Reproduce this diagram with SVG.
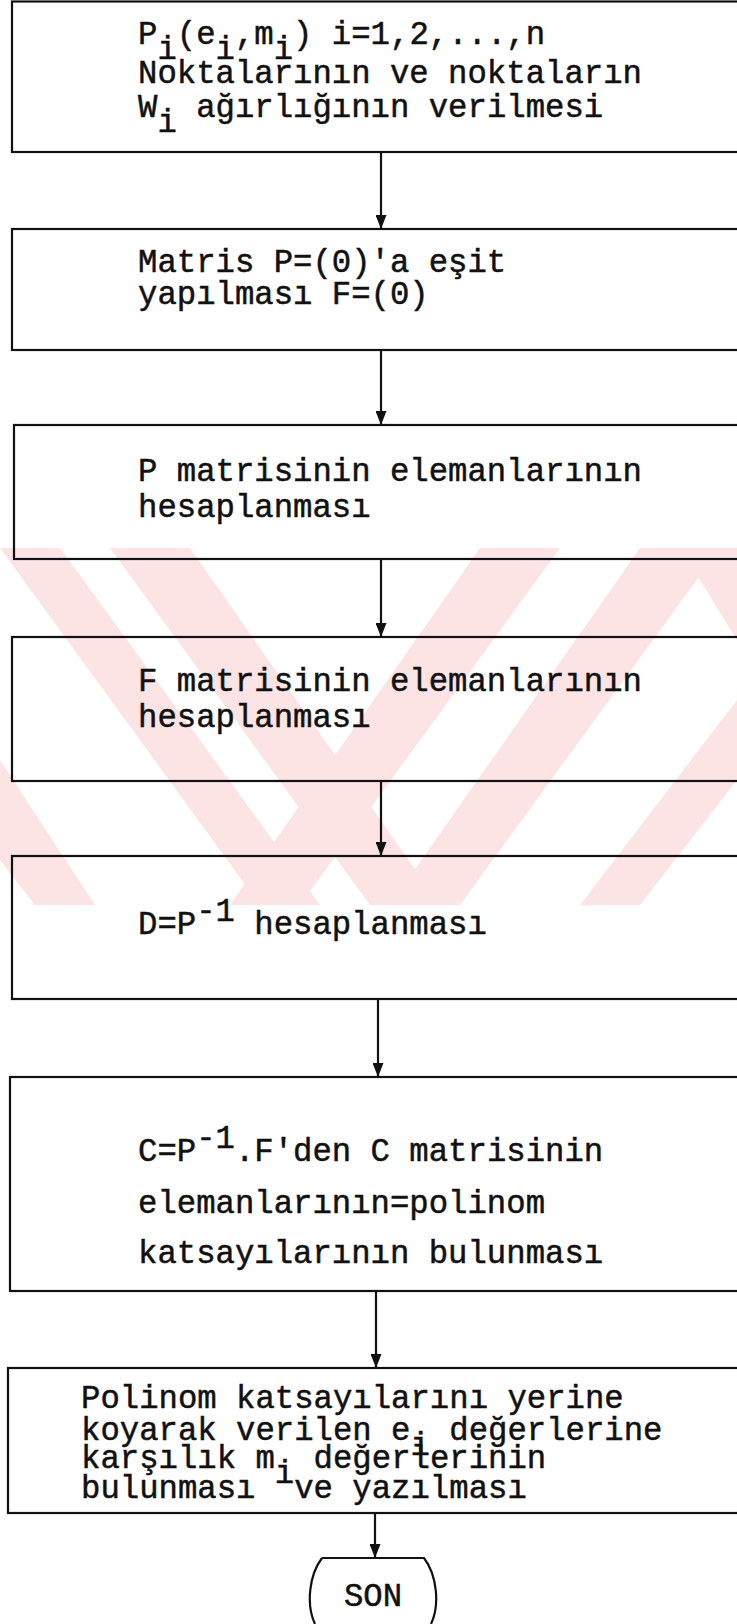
<svg xmlns="http://www.w3.org/2000/svg" width="737" height="1624" viewBox="0 0 737 1624">
<defs>
<style>
.box{fill:none;stroke:#111;stroke-width:2.2}
.t{font-family:"Liberation Mono","Courier New",monospace;font-size:32.3px;fill:#111;stroke:#111;stroke-width:0.5;white-space:pre}
.conn{stroke:#111;stroke-width:2.2;fill:none}
.wm{fill:#fce4e4}
</style>
<marker id="ah" markerWidth="14" markerHeight="11" refX="14" refY="5.5" orient="auto" markerUnits="userSpaceOnUse" viewBox="0 0 14 11">
<path d="M0,0 L14,5.5 L0,11 Z" fill="#111"/>
</marker>
</defs>
<rect width="737" height="1624" fill="#fff"/>
<g id="watermark">
<polygon class="wm" points="0,548 60,548 320,905 260,905"/>
<polygon class="wm" points="110,548 190,548 440,905 370,905"/>
<polygon class="wm" points="480,548 560,548 300,905 230,905"/>
<polygon class="wm" points="640,548 720,548 460,905 390,905"/>
<polygon class="wm" points="680,548 737,548 737,640"/>
<polygon class="wm" points="737,700 737,780 640,905 580,905"/>
<polygon class="wm" points="0,760 0,860 35,905 95,905"/>
</g>
<g id="connectors">
<line class="conn" x1="381" y1="152" x2="381" y2="229" marker-end="url(#ah)"/>
<line class="conn" x1="381" y1="350" x2="381" y2="425" marker-end="url(#ah)"/>
<line class="conn" x1="381" y1="559" x2="381" y2="637" marker-end="url(#ah)"/>
<line class="conn" x1="381" y1="781" x2="381" y2="856" marker-end="url(#ah)"/>
<line class="conn" x1="378" y1="999" x2="378" y2="1077" marker-end="url(#ah)"/>
<line class="conn" x1="376" y1="1291" x2="376" y2="1368" marker-end="url(#ah)"/>
<line class="conn" x1="375" y1="1513" x2="375" y2="1558" marker-end="url(#ah)"/>
</g>
<g id="n1">
<rect class="box" x="12" y="1.5" width="740" height="150.5"/>
<text class="t" xml:space="preserve" x="138" y="43.5">P<tspan dy="15">i</tspan><tspan dy="-15">(e</tspan><tspan dy="15">i</tspan><tspan dy="-15">,m</tspan><tspan dy="15">i</tspan><tspan dy="-15">) i=1,2,...,n</tspan></text>
<text class="t" xml:space="preserve" x="138" y="83">Noktalarının ve noktaların</text>
<text class="t" xml:space="preserve" x="138" y="117">W<tspan dy="15">i</tspan><tspan dy="-15"> ağırlığının verilmesi</tspan></text>
</g>
<g id="n2">
<rect class="box" x="12" y="229" width="740" height="121"/>
<text class="t" xml:space="preserve" x="138" y="272">Matris P=(0)'a eşit</text>
<text class="t" xml:space="preserve" x="138" y="304">yapılması F=(0)</text>
</g>
<g id="n3">
<rect class="box" x="14" y="425" width="740" height="134"/>
<text class="t" xml:space="preserve" x="138" y="481">P matrisinin elemanlarının</text>
<text class="t" xml:space="preserve" x="138" y="517">hesaplanması</text>
</g>
<g id="n4">
<rect class="box" x="12" y="637" width="740" height="144"/>
<text class="t" xml:space="preserve" x="138" y="691">F matrisinin elemanlarının</text>
<text class="t" xml:space="preserve" x="138" y="727">hesaplanması</text>
</g>
<g id="n5">
<rect class="box" x="12" y="856" width="740" height="143"/>
<text class="t" xml:space="preserve" x="138" y="934">D=P<tspan dy="-13">-1</tspan><tspan dy="13"> hesaplanması</tspan></text>
</g>
<g id="n6">
<rect class="box" x="10" y="1077" width="740" height="214"/>
<text class="t" xml:space="preserve" x="138" y="1161">C=P<tspan dy="-13">-1</tspan><tspan dy="13">.F'den C matrisinin</tspan></text>
<text class="t" xml:space="preserve" x="138" y="1213">elemanlarının=polinom</text>
<text class="t" xml:space="preserve" x="138" y="1263">katsayılarının bulunması</text>
</g>
<g id="n7">
<rect class="box" x="8" y="1368" width="740" height="145"/>
<text class="t" xml:space="preserve" x="81" y="1408">Polinom katsayılarını yerine</text>
<text class="t" xml:space="preserve" x="81" y="1440">koyarak verilen e<tspan dy="15">i</tspan><tspan dy="-15"> değerlerine</tspan></text>
<text class="t" xml:space="preserve" x="81" y="1468">karşılık m<tspan dy="15">i</tspan><tspan dy="-15"> değerlerinin</tspan></text>
<text class="t" xml:space="preserve" x="81" y="1498">bulunması  ve yazılması</text>
</g>
<g id="son">
<path class="box" d="M322,1558 L424,1558 C437,1575 440,1605 431,1624 M322,1558 C309,1575 306,1605 315,1624"/>
<text class="t" x="373" y="1606" text-anchor="middle">SON</text>
</g>
</svg>
